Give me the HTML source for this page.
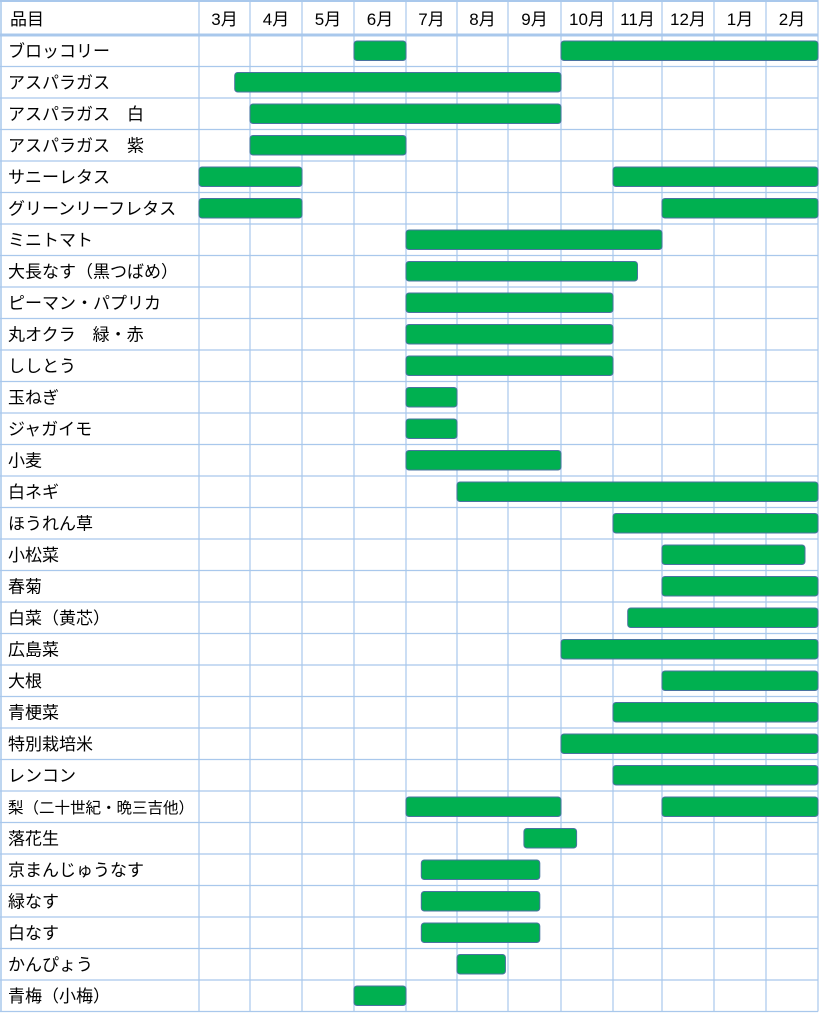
<!DOCTYPE html>
<html><head><meta charset="utf-8">
<style>
html,body{margin:0;padding:0;background:#fff;}
svg{display:block;font-family:"Liberation Sans","Noto Sans CJK JP",sans-serif;}
</style></head>
<body>
<svg id="chart" width="828" height="1024" viewBox="0 0 828 1024" xmlns="http://www.w3.org/2000/svg">
<rect x="0" y="0" width="828" height="1024" fill="#fff"/>
<g id="grid"></g>
<g id="bars"></g>
<g id="labels"></g>
</svg>
<script>
const months = ["3月","4月","5月","6月","7月","8月","9月","10月","11月","12月","1月","2月"];
const items = ["ブロッコリー","アスパラガス","アスパラガス　白","アスパラガス　紫","サニーレタス","グリーンリーフレタス","ミニトマト","大長なす（黒つばめ）","ピーマン・パプリカ","丸オクラ　緑・赤","ししとう","玉ねぎ","ジャガイモ","小麦","白ネギ","ほうれん草","小松菜","春菊","白菜（黄芯）","広島菜","大根","青梗菜","特別栽培米","レンコン","梨（二十世紀・晩三吉他）","落花生","京まんじゅうなす","緑なす","白なす","かんぴょう","青梅（小梅）"];
// each bar: [row index, start month offset, end month offset] (0 = start of 3月)
const barRows   = [0,0,1,2,3,4,4,5,5,6,7,8,9,10,11,12,13,14,15,16,17,18,19,20,21,22,23,24,24,25,26,27,28,29,30];
const barStarts = [3,7,0.7,1,1,0,8,0,9,4,4,4,4,4,4,4,4,5,8,9,9,8.3,7,9,8,7,8,4,9,6.3,4.3,4.3,4.3,5,3];
const barEnds   = [4,12,7,7,4,2,12,2,12,9,8.5,8,8,8,5,5,7,12,12,11.75,12,12,12,12,12,12,12,7,12,7.3,6.6,6.6,6.6,5.95,4];

const gridX = [199,250,302,354,406,457,508,561,613,662,714,766,818];
const top0 = 35, rowH = 31.5, bottom = top0 + rowH*items.length;
function xScale(m){
  const i = Math.max(0, Math.min(11, Math.floor(m)));
  return gridX[i] + (m - i) * (gridX[i+1] - gridX[i]);
}
function yRow(r){ return top0 + rowH*r; }
const NS = "http://www.w3.org/2000/svg";
const grid = document.getElementById('grid');
const bars = document.getElementById('bars');
const labels = document.getElementById('labels');
function mk(tag, attrs, parent){
  const e = document.createElementNS(NS, tag);
  for (const k in attrs) e.setAttribute(k, attrs[k]);
  parent.appendChild(e); return e;
}
// horizontal lines
for (let r=0; r<=items.length; r++){
  const l = mk('line',{x1:0,x2:818,y1:yRow(r),y2:yRow(r),stroke:'#a9c8ec','stroke-width':r===0?3:1.2},grid);
  
  
}
const tl = mk('line',{x1:0,x2:818,y1:1,y2:1,stroke:'#a9c8ec','stroke-width':2},grid);


// vertical lines
const v0 = mk('line',{x1:1,x2:1,y1:0,y2:bottom,stroke:'#a9c8ec','stroke-width':1.5},grid);


gridX.forEach((x)=>{
  const l = mk('line',{x1:x,x2:x,y1:0,y2:bottom,stroke:'#a9c8ec','stroke-width':1.2},grid);
  
  
});
// header
const h = mk('text',{x:10,y:25,'font-size':17,fill:'#000'},labels);
h.textContent = '品目';


months.forEach((m,i)=>{
  const t = mk('text',{x:(gridX[i]+gridX[i+1])/2,y:25,'font-size':17,fill:'#000','text-anchor':'middle'},labels);
  t.textContent = m;
  
  
});
// item labels
items.forEach((n,r)=>{
  const t = mk('text',{x:8,y:yRow(r)+rowH/2+6,'font-size':n.length>10?15.5:17,fill:'#000'},labels);
  t.textContent = n;
  
  
});
// bars
barRows.forEach((r,i)=>{
  const x1 = xScale(barStarts[i]), x2 = xScale(barEnds[i]);
  const b = mk('rect',{x:x1,y:yRow(r)+6,width:x2-x1,height:rowH-12,rx:3,ry:3,fill:'#00b050',stroke:'#4a73a0','stroke-width':1},bars);
  
  
});
</script>
</body></html>
